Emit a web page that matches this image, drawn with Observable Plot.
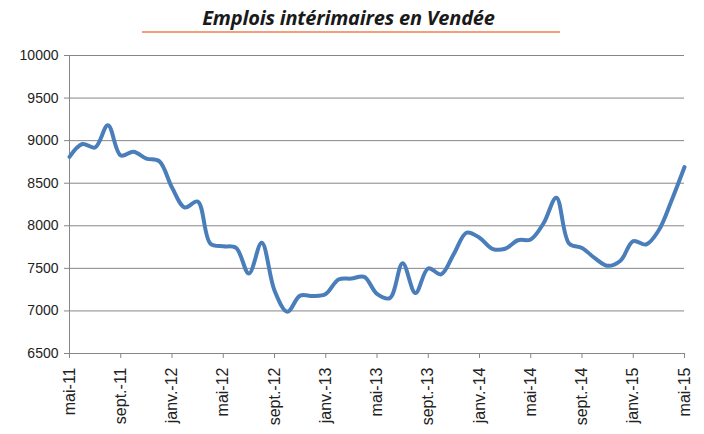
<!DOCTYPE html>
<html>
<head>
<meta charset="utf-8">
<script src="https://cdn.jsdelivr.net/npm/d3@7"></script>
<script src="https://cdn.jsdelivr.net/npm/@observablehq/plot@0.6"></script>
<style>
  html, body { margin: 0; padding: 0; background: #fff; }
  #wrap { position: relative; width: 704px; height: 434px; overflow: hidden; }
  #title { position: absolute; left: 0; top: 8px; width: 697px; text-align: center; line-height: 20px;
    font-family: "Open Sans", sans-serif; font-weight: bold; font-style: italic;
    font-size: 20px; color: #1a1a1a; letter-spacing: -0.2px; white-space: nowrap; }
  #rule { position: absolute; left: 142px; top: 31px; width: 418px; height: 2px; background: #f2a07a; }
  #chart { position: absolute; left: 0; top: 0; }
  #chart svg text { font-family: "Liberation Sans", Arial, sans-serif; }
</style>
</head>
<body>
<div id="wrap">
  <div id="title"></div>
  <div id="rule"></div>
  <div id="chart"></div>
</div>
<script>
const title = "Emplois intérimaires en Vendée";

const months = [
  "mai-11","juin-11","juil.-11","août-11","sept.-11","oct.-11","nov.-11","déc.-11",
  "janv.-12","févr.-12","mars-12","avr.-12","mai-12","juin-12","juil.-12","août-12",
  "sept.-12","oct.-12","nov.-12","déc.-12","janv.-13","févr.-13","mars-13","avr.-13",
  "mai-13","juin-13","juil.-13","août-13","sept.-13","oct.-13","nov.-13","déc.-13",
  "janv.-14","févr.-14","mars-14","avr.-14","mai-14","juin-14","juil.-14","août-14",
  "sept.-14","oct.-14","nov.-14","déc.-14","janv.-15","févr.-15","mars-15","avr.-15",
  "mai-15"
];

const values = [
  8810, 8960, 8920, 9180, 8825, 8870, 8790, 8760,
  8450, 8215, 8285, 7790, 7760, 7740, 7440, 7800,
  7240, 6990, 7180, 7175, 7200, 7370, 7380, 7400,
  7200, 7150, 7560, 7210, 7500, 7430, 7670, 7920,
  7860, 7730, 7730, 7830, 7840, 8030, 8330, 7790,
  7740, 7620, 7530, 7590, 7820, 7780, 7950, 8300,
  8690
];

const tickLabels = ["mai-11","sept.-11","janv.-12","mai-12","sept.-12","janv.-13","mai-13",
  "sept.-13","janv.-14","mai-14","sept.-14","janv.-15","mai-15"];

const yTicks = [6500, 7000, 7500, 8000, 8500, 9000, 9500, 10000];

document.getElementById("title").textContent = title;

const data = values.map((v, i) => ({i, month: months[i], v}));
const xTicks = tickLabels.map(l => months.indexOf(l));
const font = "'Liberation Sans', Arial, sans-serif";

const chart = Plot.plot({
  width: 704,
  height: 434,
  marginTop: 55,
  marginBottom: 81,
  marginLeft: 69,
  marginRight: 20,
  style: {fontFamily: font, color: "#222", background: "transparent"},
  x: {type: "linear", domain: [0, months.length - 1]},
  y: {domain: [6500, 10000]},
  marks: [
    Plot.gridY(yTicks, {stroke: "#868686", strokeOpacity: 1, strokeWidth: 1}),
    Plot.ruleX([0], {stroke: "#868686", strokeWidth: 1}),
    Plot.ruleY([6500], {stroke: "#868686", strokeWidth: 1}),
    Plot.axisY(yTicks, {tickSize: 5, tickPadding: 6, fontSize: 14, fontFamily: font, stroke: "#868686", fill: "#222",
      tickFormat: d3.format("d"), label: null}),
    Plot.axisX(xTicks, {tickSize: 5, tickPadding: 9, tickRotate: -90, fontSize: 16, fontFamily: font, stroke: "#868686", fill: "#222",
      tickFormat: i => months[i], label: null}),
    Plot.line(data, {x: "i", y: "v", stroke: "#4a7ebb", strokeWidth: 4, curve: "catmull-rom"})
  ]
});
document.getElementById("chart").appendChild(chart);
</script>
</body>
</html>
